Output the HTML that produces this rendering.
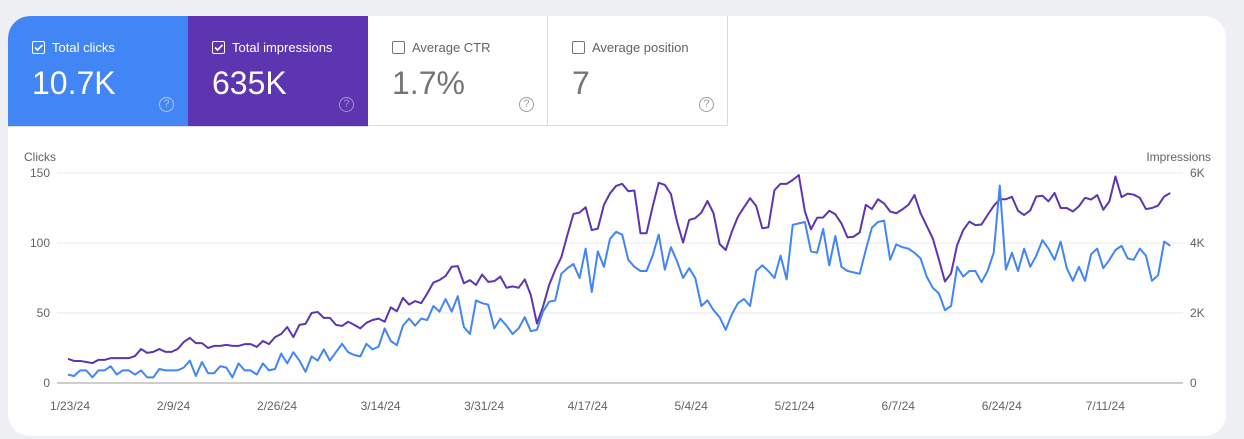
<!DOCTYPE html>
<html><head><meta charset="utf-8">
<style>
body{margin:0;width:1244px;height:439px;background:#eef0f4;font-family:"Liberation Sans",sans-serif;overflow:hidden;position:relative}
.card{position:absolute;left:8px;top:16px;width:1218px;height:420px;background:#fff;border-radius:22px 22px 22px 22px;overflow:hidden}
.tile{position:absolute;top:0;height:110px;width:180px;box-sizing:border-box}
.lbl{position:absolute;left:24px;top:24px;font-size:13px;display:flex;align-items:center}
.cb{width:11px;height:11px;border:1.5px solid;border-radius:2px;margin-right:7px;position:relative}
.val{position:absolute;left:24px;top:49px;font-size:32px}
.help{position:absolute;left:151px;top:81px;width:13px;height:13px;border:1.5px solid;border-radius:50%;font-size:11px;text-align:center;line-height:13px}
</style></head><body>
<div class="card">
 <div class="tile" style="left:0;background:#4285f4;color:#fff;border-top-left-radius:22px">
  <div class="lbl"><span class="cb" style="border-color:#fff"><svg width="11" height="11" style="position:absolute;left:0;top:0"><path d="M2 5.5l2.5 2.5 5-5" stroke="#fff" stroke-width="1.6" fill="none"/></svg></span>Total clicks</div>
  <div class="val">10.7K</div>
  <div class="help" style="border-color:#a9c6fa;color:#a9c6fa">?</div>
 </div>
 <div class="tile" style="left:180px;background:#5e35b1;color:#fff">
  <div class="lbl"><span class="cb" style="border-color:#fff"><svg width="11" height="11" style="position:absolute;left:0;top:0"><path d="M2 5.5l2.5 2.5 5-5" stroke="#fff" stroke-width="1.6" fill="none"/></svg></span>Total impressions</div>
  <div class="val">635K</div>
  <div class="help" style="border-color:#a58fd6;color:#a58fd6">?</div>
 </div>
 <div class="tile" style="left:360px;color:#5f6368;border-right:1px solid #dadce0;border-bottom:1px solid #dadce0">
  <div class="lbl"><span class="cb" style="border-color:#757575"></span>Average CTR</div>
  <div class="val" style="color:#757575">1.7%</div>
  <div class="help" style="border-color:#9e9e9e;color:#9e9e9e">?</div>
 </div>
 <div class="tile" style="left:540px;color:#5f6368;border-right:1px solid #dadce0;border-bottom:1px solid #dadce0">
  <div class="lbl"><span class="cb" style="border-color:#757575"></span>Average position</div>
  <div class="val" style="color:#757575">7</div>
  <div class="help" style="border-color:#9e9e9e;color:#9e9e9e">?</div>
 </div>
 <div style="position:absolute;left:0;top:110px;width:360px;height:1px;background:#dadce0"></div>
</div>
<svg id="chart" width="1244" height="439" style="position:absolute;left:0;top:0" font-family="Liberation Sans, sans-serif"></svg>
<script>
const clicks=[6,5,9,9,4,9,9,12,6,9,9,6,9,4,4,10,9,9,9,11,16,5,15,7,7,12,11,4,14,9,9,6,14,9,10,21,14,22,16,8,19,16,24,16,22,
28,22,20,19,28,24,26,39,30,27,41,46,41,46,45,55,51,60,51,62,40,35,59,57,56,39,46,41,35,39,47,37,38,51,58,59,78,82,85,75,96,65,94,83,
103,108,106,88,83,80,80,91,106,81,97,87,75,82,75,55,59,52,47,38,49,57,60,55,80,84,80,75,91,74,113,114,115,94,93,110,84,105,83,80,79,78,95,111,115,
116,88,99,97,96,93,89,76,68,64,52,55,83,76,80,80,72,80,93,141,81,93,80,96,
83,91,102,96,88,101,82,73,83,73,92,96,82,88,95,98,89,88,96,91,73,77,101,98];
const impressions=[690,630,630,600,570,660,660,710,710,710,710,770,970,860,890,970,890,890,970,1170,1290,1140,1140,1000,1060,1060,1090,1060,1060,1110,1110,1030,1200,1110,1310,1400,1600,1310,1660,1690,2000,2030,1860,1860,1660,
1630,1750,1660,1560,1720,1800,1840,1750,2160,2050,2430,2240,2340,2280,2560,2870,2940,3060,3320,3340,2850,2940,2800,3100,2890,2910,3040,2720,2760,2720,2960,2510,1700,2180,2800,3230,3590,4230,4830,4870,5020,4370,4410,5090,
5420,5630,5690,5480,5500,4280,4280,5040,5720,5660,5400,4610,4010,4660,4710,4870,5200,4850,3970,3800,4320,4750,5020,5280,5060,4420,4450,5510,5690,5690,5800,5940,4900,4390,4720,4730,4920,4820,4560,4160,4180,4300,5090,4970,5250,
5130,4900,4850,4960,5090,5370,4850,4490,4130,3530,2900,3130,3940,4370,4610,4510,4530,4800,5060,5250,5250,5320,4920,4800,
4930,5330,5350,5190,5430,5000,5000,4900,5050,5290,5240,5370,4950,5190,5900,5310,5410,5380,5290,4970,5000,5070,5330,5430];
const clickTicks=[0,50,100,150];
const impTicks=[0,2000,4000,6000];
const impTickLabels=["0","2K","4K","6K"];
const xTickLabels=["1/23/24","2/9/24","2/26/24","3/14/24","3/31/24","4/17/24","5/4/24","5/21/24","6/7/24","6/24/24","7/11/24"];
const xTickDays=[0,17,34,51,68,85,102,119,136,153,170];

const NS="http://www.w3.org/2000/svg",svg=document.getElementById('chart');
const X0=68,DX=6.09,Y0=383,H=210;
const x=i=>X0+DX*i, yc=v=>Y0-v/150*H, yi=v=>Y0-v/6000*H;
function mk(t,a){const e=document.createElementNS(NS,t);for(const k in a)e.setAttribute(k,a[k]);svg.appendChild(e);return e;}
clickTicks.forEach((v,j)=>{
 const g=mk('line',{x1:57,x2:1183,y1:yc(v),y2:yc(v),stroke:v===0?'#9e9e9e':'#e8e8e8','stroke-width':1});
 
 
 const t=mk('text',{x:50,y:yc(v)+4,'text-anchor':'end','font-size':12,fill:'#5f6368'});t.textContent=v;
 
 
});
impTicks.forEach((v,j)=>{
 const t=mk('text',{x:1190,y:yi(v)+4,'font-size':12,fill:'#5f6368'});t.textContent=impTickLabels[j];
 
 
});
xTickDays.forEach((d,j)=>{
 const t=mk('text',{x:x(d)+2,y:410,'text-anchor':'middle','font-size':12,fill:'#5f6368'});t.textContent=xTickLabels[j];
 
 
});
let t=mk('text',{x:24,y:161,'font-size':12,fill:'#5f6368'});t.textContent='Clicks';


t=mk('text',{x:1211,y:161,'text-anchor':'end','font-size':12,fill:'#5f6368'});t.textContent='Impressions';


const pi=mk('polyline',{points:impressions.map((v,i)=>x(i)+','+yi(v)).join(' '),fill:'none',stroke:'#5e35b1','stroke-width':2,'stroke-linejoin':'round'});


const pc=mk('polyline',{points:clicks.map((v,i)=>x(i)+','+yc(v)).join(' '),fill:'none',stroke:'#4285f4','stroke-width':2,'stroke-linejoin':'round'});


</script>
</body></html>
